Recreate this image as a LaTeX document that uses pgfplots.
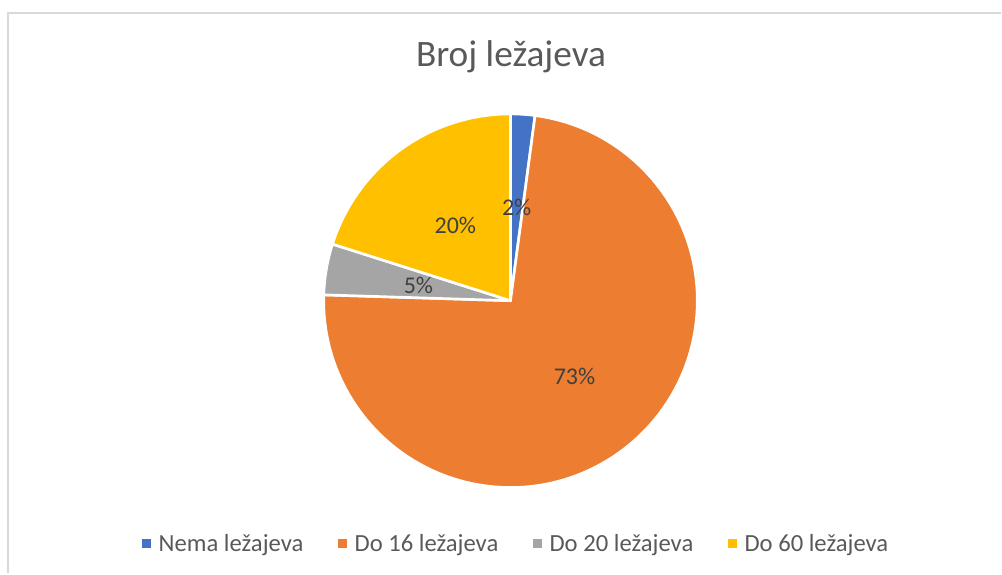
\documentclass[border=0pt]{standalone}
\usepackage{pgfplots}
\pgfplotsset{compat=1.18}
\usepackage{fontspec}
\setmainfont{Carlito}
\usetikzlibrary{calc}
\definecolor{cBlue}{HTML}{4472C4}
\definecolor{cOrange}{HTML}{ED7D31}
\definecolor{cGray}{HTML}{A5A5A5}
\definecolor{cYellow}{HTML}{FFC000}
\definecolor{txt}{HTML}{595959}
\definecolor{lbl}{HTML}{404040}
\definecolor{frm}{HTML}{D9D9D9}
% shares (percent) of the four slices, clockwise from 12 o'clock
\def\vA{2.1}   % Nema ležajeva
\def\vB{73.4}  % Do 16 ležajeva
\def\vC{4.4}   % Do 20 ležajeva
\def\vD{20.1}  % Do 60 ležajeva
\def\R{140.25pt}
\begin{document}
\begin{tikzpicture}
\begin{axis}[
  scale only axis, width=751.5pt, height=430.5pt,
  xmin=0, xmax=1002, ymin=0, ymax=574, y dir=reverse,
  hide axis, clip=false,
  legend columns=4,
  legend style={at={(axis cs:517,544)}, anchor=center, draw=none, fill=none,
    font=\fontsize{18.5}{22}\selectfont, text=txt,
    /tikz/every odd column/.append style={column sep=3.75pt},
    /tikz/every even column/.append style={column sep=24pt}},
  legend image code/.code={\fill[#1, draw=none] (0pt,-3.4pt) rectangle (6.75pt,3.4pt);},
]
\path (rel axis cs:0,0) rectangle (rel axis cs:1,1);
% frame
\draw[frm, line width=1.5pt] (axis cs:8.5,574) -- (axis cs:8.5,13) -- (axis cs:1002,13);
% title
\node[anchor=base, text=txt, font=\fontsize{28}{34}\selectfont] at (axis cs:511.5,67) {Broj ležajeva};
% slices
\coordinate (O) at (axis cs:511,301);
\filldraw[fill=cBlue, draw=white, line width=2pt, line join=round]
  (O) -- ++(90:\R) arc[start angle=90, delta angle={-3.6*\vA}, radius=\R] -- cycle;
\filldraw[fill=cOrange, draw=white, line width=2pt, line join=round]
  (O) -- ++({90-3.6*\vA}:\R) arc[start angle={90-3.6*\vA}, delta angle={-3.6*\vB}, radius=\R] -- cycle;
\filldraw[fill=cGray, draw=white, line width=2pt, line join=round]
  (O) -- ++({90-3.6*(\vA+\vB)}:\R) arc[start angle={90-3.6*(\vA+\vB)}, delta angle={-3.6*\vC}, radius=\R] -- cycle;
\filldraw[fill=cYellow, draw=white, line width=2pt, line join=round]
  (O) -- ++({90-3.6*(\vA+\vB+\vC)}:\R) arc[start angle={90-3.6*(\vA+\vB+\vC)}, delta angle={-3.6*\vD}, radius=\R] -- cycle;
% data labels
\begin{scope}[every node/.style={text=lbl, font=\fontsize{18}{22}\selectfont}]
\node at ($(O)+({90-3.6*(\vA/2)}:0.5*\R)$) {2\%};
\node at ($(O)+({90-3.6*(\vA+\vB/2)}:0.53*\R)$) {73\%};
\node at ($(O)+({90-3.6*(\vA+\vB+\vC/2)}:0.5*\R)$) {5\%};
\node at ($(O)+({90-3.6*(\vA+\vB+\vC+\vD/2)}:0.5*\R)$) {20\%};
\end{scope}
\addlegendimage{fill=cBlue}
\addlegendentry{Nema ležajeva}
\addlegendimage{fill=cOrange}
\addlegendentry{Do 16 ležajeva}
\addlegendimage{fill=cGray}
\addlegendentry{Do 20 ležajeva}
\addlegendimage{fill=cYellow}
\addlegendentry{Do 60 ležajeva}
\end{axis}
\end{tikzpicture}
\end{document}
